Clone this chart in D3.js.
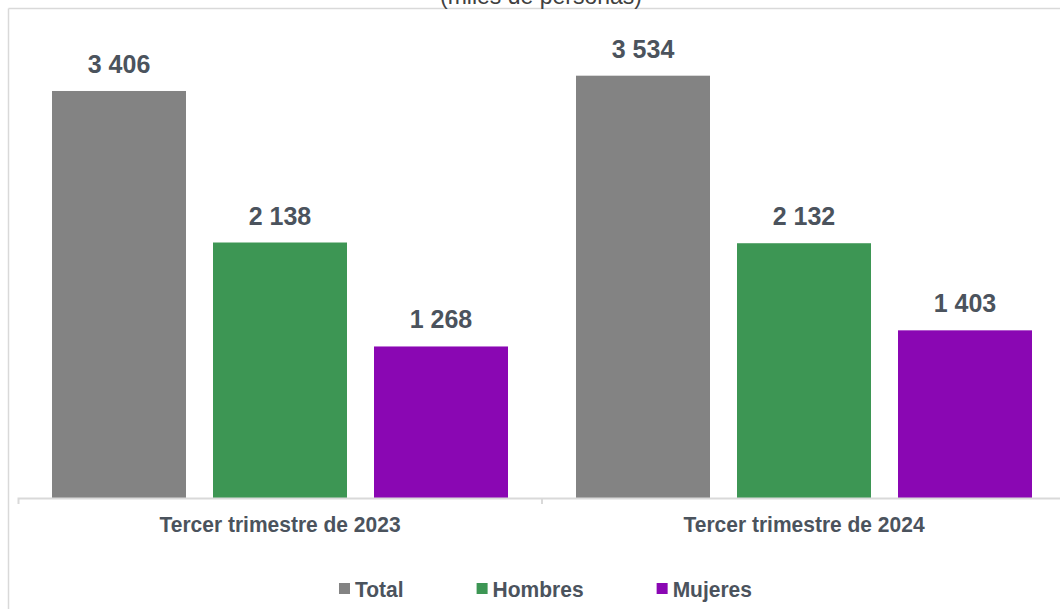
<!DOCTYPE html>
<html>
<head>
<meta charset="utf-8">
<script src="https://cdn.jsdelivr.net/npm/d3@7/dist/d3.min.js"></script>
<style>
  html, body { margin: 0; padding: 0; background: #ffffff; }
  svg { display: block; font-family: "Liberation Sans", Arial, sans-serif; }
</style>
</head>
<body>
<svg id="chart" width="1060" height="609"></svg>
<script>
// ---- data ----
const categories = ["Tercer trimestre de 2023", "Tercer trimestre de 2024"];
const seriesNames = ["Total", "Hombres", "Mujeres"];
const totalValues = [3406, 3534];
const hombresValues = [2138, 2132];
const mujeresValues = [1268, 1403];
const title = "(miles de personas)";

const seriesValues = [totalValues, hombresValues, mujeresValues];
const colors = ["#838383", "#3d9654", "#8a07b3"];
const textColor = "#4b535d";

const svg = d3.select("#chart");
const W = 1060, H = 609;

// frame
svg.append("line").attr("x1", 8.5).attr("x2", 8.5).attr("y1", 8.5).attr("y2", H)
  .attr("stroke", "#d9d9d9").attr("stroke-width", 1.5);
svg.append("line").attr("x1", 8.5).attr("x2", W).attr("y1", 8.5).attr("y2", 8.5)
  .attr("stroke", "#d9d9d9").attr("stroke-width", 1.5);

// title (partially cut off at top, as in the reference)
svg.append("text").attr("x", 541).attr("y", 4).attr("text-anchor", "middle")
  .attr("font-size", 23).attr("fill", "#404040").text(title);

// scales
const x0 = d3.scaleBand().domain(categories).range([18, 1066]).padding(0);
const x1 = d3.scaleBand().domain(seriesNames).range([0, x0.bandwidth()])
  .paddingInner(0.1677).paddingOuter(0.2112);
const y = d3.scaleLinear().domain([0, 4000]).range([498, 20]);

// bars
const rows = [];
categories.forEach((c, i) => {
  seriesNames.forEach((s, j) => rows.push({ cat: c, ser: s, j: j, v: seriesValues[j][i] }));
});

svg.append("g").selectAll("rect").data(rows).join("rect")
  .attr("x", d => x0(d.cat) + x1(d.ser))
  .attr("y", d => y(d.v))
  .attr("width", x1.bandwidth())
  .attr("height", d => y(0) - y(d.v))
  .attr("fill", d => colors[d.j]);

// data labels
const fmt = v => d3.format(",")(v).replace(/,/g, " ");
svg.append("g").selectAll("text").data(rows).join("text")
  .attr("transform", d => `translate(${x0(d.cat) + x1(d.ser) + x1.bandwidth() / 2},${y(d.v) - 18}) scale(1,1.04)`)
  .attr("text-anchor", "middle")
  .attr("font-size", 25).attr("font-weight", "bold").attr("fill", textColor)
  .text(d => fmt(d.v));

// axis
const axis = d3.axisBottom(x0).tickSize(0).tickSizeOuter(6).tickPadding(0);
const gAxis = svg.append("g").attr("transform", `translate(0,${y(0)})`).call(axis);
gAxis.select(".domain").attr("stroke", "#d9d9d9").attr("stroke-width", 2);
gAxis.selectAll(".tick text").remove();
// boundary tick between categories
gAxis.append("line").attr("x1", x0(categories[1])).attr("x2", x0(categories[1]))
  .attr("y1", 0).attr("y2", 6).attr("stroke", "#d9d9d9").attr("stroke-width", 2);

svg.append("g").selectAll("text").data(categories).join("text")
  .attr("transform", d => `translate(${x0(d) + x0.bandwidth() / 2},532) scale(1,1.08)`)
  .attr("text-anchor", "middle")
  .attr("font-size", 21).attr("font-weight", "bold").attr("fill", textColor)
  .text(d => d);

// legend
const legend = svg.append("g");
const items = legend.selectAll("g").data(seriesNames).join("g");
items.append("rect").attr("width", 11).attr("height", 11).attr("y", 583)
  .attr("fill", (d, i) => colors[i]);
items.append("text").attr("font-size", 21).attr("font-weight", "bold")
  .attr("fill", textColor).text(d => d);
let widths = [];
items.select("text").each(function () { widths.push(this.getComputedTextLength()); });
const sq = 11, gapTxt = 5, gapItem = 73;
const totalW = widths.reduce((a, w) => a + sq + gapTxt + w, 0) + gapItem * (widths.length - 1);
let cx = 545.5 - totalW / 2;
items.each(function (d, i) {
  const g = d3.select(this);
  g.select("rect").attr("x", cx);
  g.select("text").attr("transform", `translate(${cx + sq + gapTxt},597) scale(1,1.08)`);
  cx += sq + gapTxt + widths[i] + gapItem;
});
</script>
</body>
</html>
